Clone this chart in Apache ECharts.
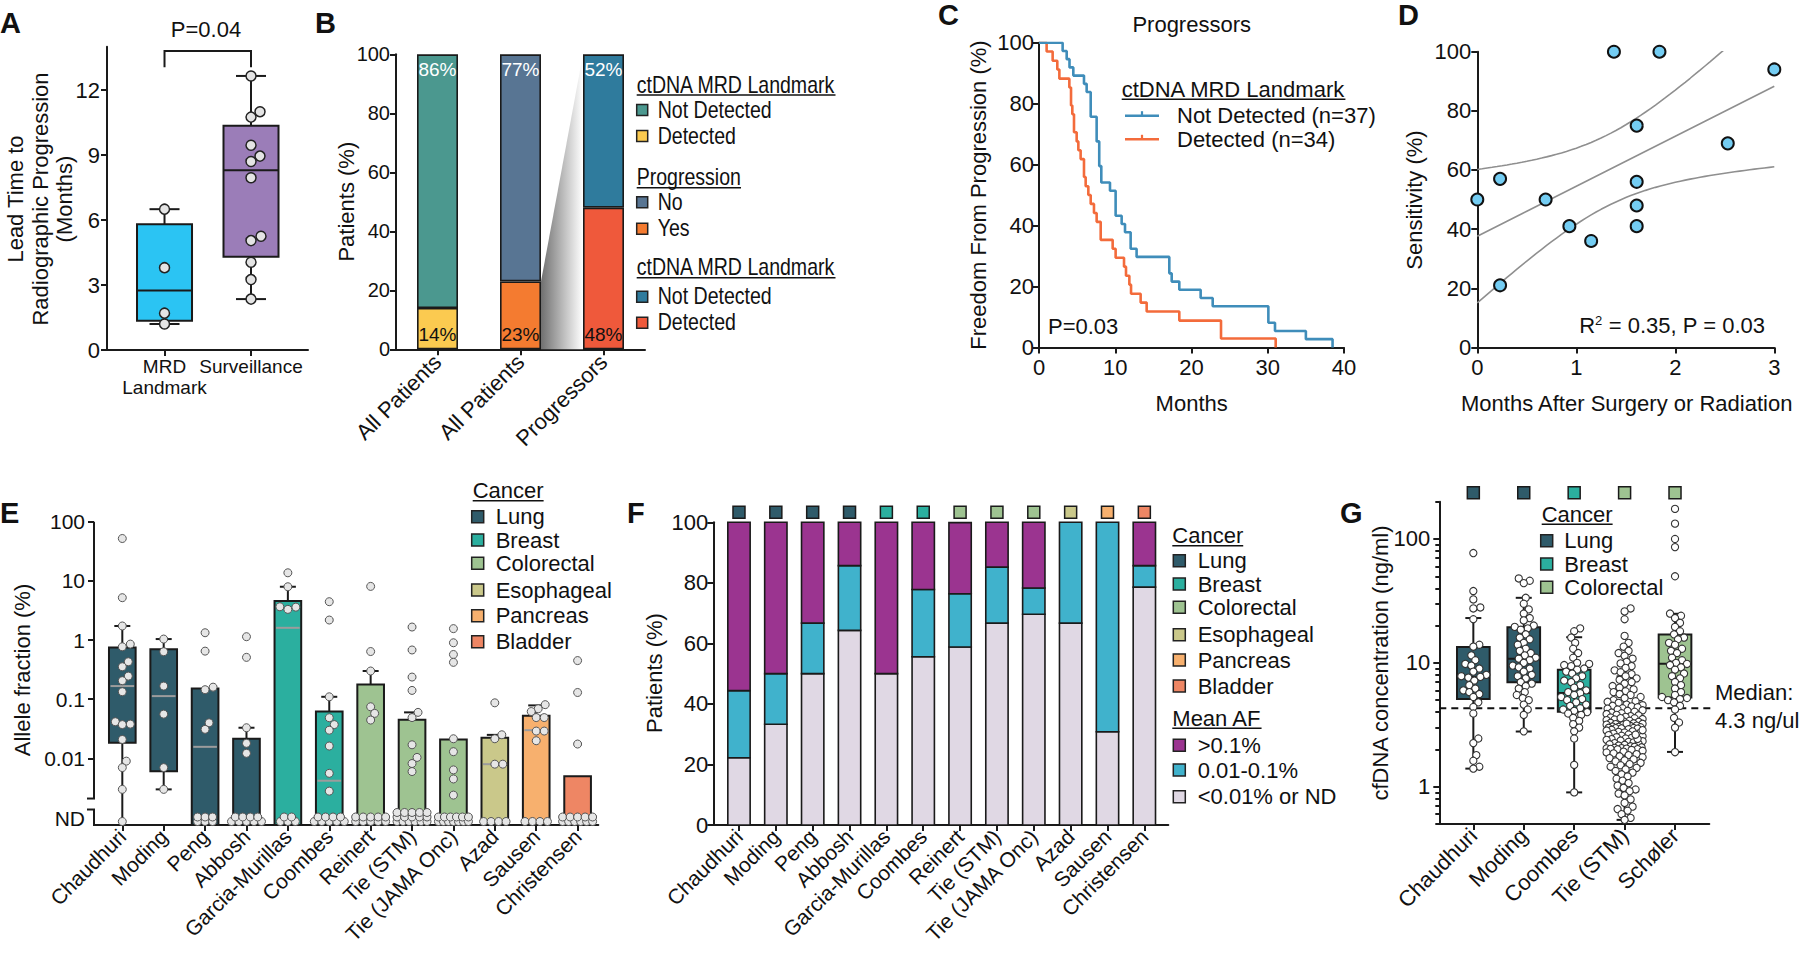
<!DOCTYPE html>
<html>
<head>
<meta charset="utf-8">
<title>ctDNA MRD figure</title>
<script src="https://cdn.jsdelivr.net/npm/echarts@6.0.0/dist/echarts.min.js"></script>
<style>
html,body{margin:0;padding:0;background:#fff;}
#chart{width:1800px;height:954px;}
</style>
</head>
<body>
<div id="chart"></div>
<script>
// ======================= DATA =======================
// ---- Panel A ----
const aCats = ['MRD\nLandmark', 'Surveillance'];
const aPoints = [
  [6.5, 3.8, 1.7, 1.2],
  [12.65, 11.0, 10.75, 9.45, 8.95, 8.7, 7.95, 5.25, 5.05, 4.05, 3.25, 2.35]
];
const aMin = [1.2, 2.35];
const aQ1 = [1.35, 4.3];
const aMed = [2.75, 8.3];
const aQ3 = [5.8, 10.35];
const aMax = [6.5, 12.65];
const aYTicks = [0, 3, 6, 9, 12];
const aPLabel = 'P=0.04';

// ---- Panel B ----
const bCats = ['All Patients', 'All Patients', 'Progressors'];
const bBottom = [14, 23, 48];
const bTop = [86, 77, 52];

// ---- Panel C (Kaplan-Meier steps: [months, %]) ----
const cNotDetected = [[0,100],[3.1,97.3],[3.63,94.6],[4.0,91.9],[4.5,89.2],[5.9,86.5],[6.25,83.8],[6.78,81.1],[6.78,78.4],[6.78,75.7],[7.56,73.0],[7.56,70.3],[7.56,67.6],[7.9,64.9],[7.9,62.2],[7.9,59.5],[8.17,56.8],[8.17,54.1],[9.31,51.4],[10.05,48.6],[10.05,45.9],[10.05,43.2],[10.84,40.5],[11.28,37.8],[12.02,35.1],[12.02,32.4],[12.8,29.7],[17.09,27.0],[17.09,24.3],[17.4,21.6],[18.4,18.9],[21.2,16.2],[22.78,13.5],[30.08,10.8],[30.08,8.1],[30.95,5.4],[35.0,2.7],[38.5,0]];
const cDetected = [[0,100],[1.0,97.1],[1.79,94.1],[2.4,91.2],[2.67,88.2],[3.98,85.3],[4.2,82.4],[4.2,79.4],[4.37,76.5],[4.59,73.5],[4.59,70.6],[4.94,67.6],[5.16,64.7],[5.46,61.8],[5.9,58.8],[5.9,55.9],[6.12,52.9],[6.47,50.0],[6.78,47.1],[7.21,44.1],[7.56,41.2],[8.09,38.2],[8.09,35.3],[9.66,32.4],[10.05,29.4],[11.15,26.5],[11.41,23.5],[11.85,20.6],[12.07,17.6],[13.33,14.7],[14.12,11.8],[18.4,8.8],[23.87,5.9],[23.87,2.9],[31.04,0]];

// ---- Panel D ----
const dMonths = [0, 0.23, 0.23, 0.69, 0.93, 1.15, 1.38, 1.84, 1.61, 1.61, 1.61, 1.61, 2.53, 3.0];
const dSens   = [50, 57, 21, 50, 41, 36, 100, 100, 75, 56, 48, 41, 69, 94];

// ---- Panel E (allele fraction %, 0 = not detected) ----
const eCats = ['Chaudhuri','Moding','Peng','Abbosh','Garcia-Murillas','Coombes','Reinert','Tie (STM)','Tie (JAMA Onc)','Azad','Sausen','Christensen'];
const eCancer = ['Lung','Lung','Lung','Lung','Breast','Breast','Colorectal','Colorectal','Colorectal','Esophageal','Pancreas','Bladder'];
const eValues = [
  [52, 5.2, 1.73, 0.855, 0.77, 0.43, 0.354, 0.246, 0.206, 0.134, 0.0417, 0.038, 0.0373, 0.0209, 0.009, 0.007, 0.003, 0],
  [1.04, 0.636, 0.167, 0.056, 0.007, 0.003],
  [1.33, 0.65, 0.16, 0.145, 0.04, 0.031, 0, 0, 0, 0, 0, 0],
  [1.14, 0.51, 0.033, 0.018, 0.0122, 0, 0, 0, 0, 0, 0, 0, 0, 0],
  [13.7, 7.96, 3.65, 3.3, 3.6, 0, 0, 0, 0, 0],
  [4.45, 2.18, 0.11, 0.0487, 0.0373, 0.030, 0.0162, 0.0056, 0.0028, 0, 0, 0, 0, 0, 0, 0, 0, 0],
  [8.07, 0.64, 0.30, 0.0746, 0.0577, 0.0445, 0, 0, 0, 0, 0, 0, 0, 0, 0, 0],
  [1.66, 0.68, 0.237, 0.141, 0.06, 0.049, 0.017, 0.0104, 0.0082, 0.006, 0, 0, 0, 0, 0, 0, 0, 0, 0, 0, 0, 0, 0, 0, 0, 0],
  [1.56, 0.90, 0.57, 0.42, 0.0215, 0.013, 0.0064, 0.0045, 0.0024, 0, 0, 0, 0, 0, 0, 0, 0, 0, 0, 0, 0, 0],
  [0.087, 0.0251, 0.0215, 0.008, 0.008, 0, 0, 0, 0],
  [0.081, 0.069, 0.062, 0.049, 0.049, 0.029, 0.029, 0.0199, 0, 0, 0, 0],
  [0.45, 0.13, 0.0175, 0, 0, 0, 0, 0, 0, 0, 0, 0, 0, 0]
];
const eQ1  = [0.0184, 0.0061, 0, 0, 0, 0, 0, 0, 0, 0, 0, 0];
const eMed = [0.167, 0.113, 0.0157, null, 1.61, 0.0042, null, null, null, 0.008, 0.030, null];
const eQ3  = [0.75, 0.70, 0.152, 0.0215, 4.56, 0.062, 0.178, 0.045, 0.0209, 0.0223, 0.0526, 0.005];
const eHi  = [1.73, 1.04, null, 0.033, 7.96, 0.110, 0.30, 0.060, null, 0.025, 0.0787, null];
const eLo  = [0, 0.003, null, null, null, null, null, null, null, null, null, null];
const eYTicks = [0.01, 0.1, 1, 10, 100];

// ---- Panel F (% of patients per mean AF class) ----
const fLow  = [22.2, 33.3, 50, 64.3, 50, 55.6, 58.8, 66.7, 69.6, 66.7, 30.8, 78.6];
const fMid  = [22.2, 16.7, 16.7, 21.4, 0, 22.2, 17.6, 18.5, 8.7, 33.3, 69.2, 7.1];
const fHigh = [55.6, 50, 33.3, 14.3, 50, 22.2, 23.5, 14.8, 21.7, 0, 0, 14.3];

// ---- Panel G (cfDNA ng/ml) ----
const gCats = ['Chaudhuri','Moding','Coombes','Tie (STM)','Schøler'];
const gCancer = ['Lung','Lung','Breast','Colorectal','Colorectal'];
const gValues = [
  [77, 38, 32.5, 28, 27.5, 22.5, 14, 13.5, 11.5, 10.5, 9.8, 9.5, 9.0, 8.5, 8.0, 7.8, 7.7, 7.6, 7.2, 6.6, 6.2, 6.0, 5.8, 5.6, 5.3, 4.8, 4.4, 3.9, 2.45, 2.25, 1.8, 1.62, 1.45, 1.4],
  [48, 46, 44, 33.5, 30, 27, 25, 23, 22, 20, 19.5, 19, 18.5, 17, 16, 15.5, 14.5, 14, 13, 12.5, 12, 11.5, 11, 10.8, 10.5, 10, 9.5, 9.2, 9, 8.5, 8, 7.8, 7.5, 7, 6.8, 6.5, 6.2, 5.8, 5.5, 5.2, 5.0, 4.6, 4.2, 3.8, 2.8],
  [19, 18, 16, 14.5, 13, 12, 11, 10, 9.8, 9.6, 9.4, 9.0, 8.8, 8.5, 8.2, 7.8, 7.5, 7.2, 7.0, 6.6, 6.3, 6.0, 5.8, 5.7, 5.5, 5.3, 5.1, 5.0, 4.8, 4.6, 4.5, 4.3, 4.2, 4.1, 4.0, 3.9, 3.8, 3.6, 3.4, 3.2, 3.0, 2.8, 2.45, 1.5, 0.9],
  [27.5, 26, 22.5, 16.5, 14.5, 13.5, 12.5, 12, 11.4, 10.8, 10.2, 9.9, 9.4, 9.1, 8.7, 8.4, 8.1, 7.8, 7.5, 7.3, 7.0, 6.8, 6.5, 6.3, 6.1, 5.9, 5.8, 5.6, 5.5, 5.3, 5.2, 5.0, 4.9, 4.85, 4.75, 4.6, 4.55, 4.5, 4.45, 4.38,
   4.3, 4.27, 4.2, 4.14, 4.1, 4.03, 3.97, 3.92, 3.86, 3.8, 3.77, 3.71, 3.66, 3.62, 3.57, 3.52, 3.49, 3.45, 3.41, 3.37, 3.34, 3.31, 3.28, 3.25, 3.22, 3.2, 3.17, 3.14, 3.11, 3.09, 3.06, 3.04, 3.02, 3.0, 2.99, 2.98, 2.97, 2.96, 3.23, 3.58,
   2.94, 2.91, 2.88, 2.84, 2.8, 2.77, 2.74, 2.71, 2.68, 2.64, 2.61, 2.58, 2.55, 2.51, 2.48, 2.45, 2.42, 2.39, 2.36, 2.33, 2.3, 2.28, 2.25, 2.22, 2.2, 2.18, 2.15, 2.12, 2.1, 2.08, 2.06, 2.05, 2.04, 2.03, 2.02, 2.01, 2.0, 2.43, 2.63, 2.86,
   1.98, 1.95, 1.92, 1.89, 1.86, 1.83, 1.8, 1.76, 1.73, 1.7, 1.66, 1.63, 1.6, 1.56, 1.52, 1.49, 1.45, 1.42, 1.38, 1.34, 1.3, 1.26, 1.21, 1.16, 1.12, 1.07, 1.02, 0.98, 0.95, 0.92, 0.88, 0.85, 0.79, 0.74, 0.69, 0.66, 0.64, 0.6, 0.56, 0.54],
  [175, 133, 100, 86, 50, 25, 24, 23, 21, 19.5, 18, 17, 16, 15.5, 14.5, 14, 13, 12.5, 12, 11, 10.5, 10, 9.8, 9.6, 9.2, 8.8, 8.2, 7.8, 7.5, 7.0, 6.6, 6.2, 5.8, 5.5, 5.3, 5.2, 5.1, 5.0, 4.8, 4.5, 4.2, 3.6, 3.3, 3.0, 1.9]
];
const gQ1  = [5.11, 6.97, 4.02, 2.0, 5.24];
const gMed = [7.69, 10.8, 5.72, 2.95, 9.85];
const gQ3  = [13.4, 19.4, 8.81, 4.33, 16.9];
const gLo  = [1.4, 2.79, 0.9, 0.54, 1.91];
const gHi  = [23, 33.5, 16.1, 7.78, 24.9];
const gMedianAll = 4.3;
const gYTicks = [1, 10, 100];

// ======================= STYLE =======================
const FONT = 'Liberation Sans, Arial, Helvetica, sans-serif';
const INK = '#111111', AXC = '#1a1a1a';
const cancerColor = {Lung:'#2F5B6A', Breast:'#2BAF9F', Colorectal:'#9EC391', Esophageal:'#CAC88A', Pancreas:'#F7B06E', Bladder:'#EE8664'};
const aColors = ['#2BC4F3', '#9B7DB8'];
const bBottomColors = ['#FBCA50', '#F47B30', '#EF593B'];
const bTopColors = ['#4B988F', '#587593', '#2F7B9D'];
const kmBlue = '#3F8DBA', kmOrange = '#F36B3B';
const fColors = {low:'#E0D8E4', mid:'#40B2CC', high:'#9B3490'};
const B_SX = 0.85; // panel B text is horizontally condensed

// ======================= HELPERS =======================
const lg = Math.log10;
const fmtPow = v => String(parseFloat(Math.pow(10, v).toPrecision(3)));
const seg = (x1, y1, x2, y2, lw, c) => ({type:'line', shape:{x1, y1, x2, y2}, style:{stroke:c || AXC, lineWidth:lw || 2}});
const dot = (cx, cy, r, fill, stroke, lw) => ({type:'circle', shape:{cx, cy, r}, style:{fill, stroke, lineWidth:lw}});

// bee-swarm offsets in pixel space (deterministic)
function swarm(ys, dMin, maxHalf) {
  const n = ys.length, off = new Array(n).fill(0);
  const order = ys.map((_, i) => i).sort((a, b) => ys[b] - ys[a]);
  const cands = [0];
  for (let s = 1; s <= maxHalf; s += 1) cands.push(s, -s);
  const placed = [];
  for (const i of order) {
    const y = ys[i];
    let chosen = null, bestX = 0, bestD = -1;
    for (const x of cands) {
      let md = Infinity;
      for (const p of placed) {
        const dy = p[1] - y;
        if (Math.abs(dy) >= dMin) continue;
        const dx = p[0] - x;
        const d = Math.sqrt(dx * dx + dy * dy);
        if (d < md) md = d;
      }
      if (md >= dMin) { chosen = x; break; }
      if (md > bestD) { bestD = md; bestX = x; }
    }
    if (chosen === null) chosen = bestX;
    off[i] = chosen;
    placed.push([chosen, y]);
  }
  return off;
}
// rows for not-detected points sitting on the axis
function ndLayout(n) {
  if (!n) return [];
  const rows = n <= 4 ? 1 : (n <= 14 ? 2 : 3);
  const out = []; let left = n;
  for (let r = 0; r < rows; r++) {
    const cnt = Math.ceil(left / (rows - r)); left -= cnt;
    const sp = cnt > 1 ? Math.min(7.5, 30 / (cnt - 1)) : 0;
    for (let k = 0; k < cnt; k++) out.push([(k - (cnt - 1) / 2) * sp, r * 4.5]);
  }
  return out;
}

// ======================= AXES =======================
const axLine = (show = true) => ({show, onZero:false, lineStyle:{color:AXC, width:2}});
const axTick = (o) => Object.assign({show:true, length:6, lineStyle:{color:AXC, width:2}}, o || {});
const axLabel = (o) => Object.assign({color:INK, fontFamily:FONT, fontSize:22, margin:7, hideOverlap:false}, o || {});
const noSplit = {show:false};

const A_X = [-0.665, 1.659];
const E_X = [-0.684, 11.5];
const F_X = [-0.697, 11.65];
const G_X = [-0.675, 4.68];
const E_MIN = lg(0.00075), E_ND = lg(0.00097), E_BREAK_HI = lg(0.0021), E_BREAK_LO = lg(0.00137);
const G_MIN = lg(0.5), G_MAX = lg(200);
const idx = arr => arr.map((_, i) => i);
const gMinor = [];
for (let d = -1; d <= 2; d++) for (let k = 2; k <= 9; k++) { const v = k * Math.pow(10, d); if (v >= 0.5 - 1e-9 && v <= 200 + 1e-9) gMinor.push(lg(v)); }

const grids = [
  {left:107,    top:46.7,  width:201,   height:303.3},  // A
  {left:396,    top:54.3,  width:249,   height:295},    // B
  {left:1039,   top:42.7,  width:305,   height:304.7},  // C
  {left:1477.3, top:51.7,  width:297,   height:295.7},  // D
  {left:94,     top:521.7, width:504.3, height:303.3},  // E
  {left:713.3,  top:522.3, width:455,   height:302.7},  // F
  {left:1439.3, top:501.7, width:270,   height:322.3}   // G
];

const aLabelAxis = (k, withLine) => ({gridIndex:0, type:'value', position:'bottom', offset:0, min:A_X[0], max:A_X[1], axisLine:axLine(withLine), splitLine:noSplit,
  axisTick:withLine ? axTick({customValues:idx(aCats)}) : {show:false},
  axisLabel:axLabel({fontSize:19, lineHeight:21, margin:6, customValues:[k], formatter:v => aCats[Math.round(v)]})});

const xAxes = [
  aLabelAxis(0, true),
  {gridIndex:1, type:'category', data:bCats, axisLine:axLine(), axisTick:axTick({alignWithLabel:true}),
   axisLabel:axLabel({rotate:45, margin:9, interval:0})},
  {gridIndex:2, type:'value', min:0, max:40, interval:10, axisLine:axLine(), axisTick:axTick(), axisLabel:axLabel({margin:9}), splitLine:noSplit},
  {gridIndex:3, type:'value', min:0, max:3, interval:1, axisLine:axLine(), axisTick:axTick(), axisLabel:axLabel({margin:9}), splitLine:noSplit},
  {gridIndex:4, type:'value', min:E_X[0], max:E_X[1], axisLine:axLine(), splitLine:noSplit,
   axisTick:axTick({customValues:idx(eCats)}),
   axisLabel:axLabel({fontSize:21, rotate:45, margin:8, customValues:idx(eCats), formatter:v => eCats[Math.round(v)]})},
  {gridIndex:5, type:'value', min:F_X[0], max:F_X[1], axisLine:axLine(), splitLine:noSplit,
   axisTick:axTick({customValues:idx(eCats)}),
   axisLabel:axLabel({fontSize:21, rotate:45, margin:8, customValues:idx(eCats), formatter:v => eCats[Math.round(v)]})},
  {gridIndex:6, type:'value', min:G_X[0], max:G_X[1], axisLine:axLine(), splitLine:noSplit,
   axisTick:axTick({customValues:idx(gCats)}),
   axisLabel:axLabel({fontSize:22, rotate:45, margin:8, customValues:idx(gCats), formatter:v => gCats[Math.round(v)]})},
  aLabelAxis(1, false)   // second label-only axis for panel A (labels touch each other)
];

const yAxes = [
  {gridIndex:0, type:'value', min:0, max:14, axisLine:axLine(), splitLine:noSplit,
   axisTick:axTick({customValues:aYTicks}), axisLabel:axLabel({margin:7, customValues:aYTicks})},
  {gridIndex:1, type:'value', min:0, max:100, interval:20, axisLine:axLine(), splitLine:noSplit,
   axisTick:axTick(), axisLabel:axLabel({fontSize:20, margin:6})},
  {gridIndex:2, type:'value', min:0, max:100, interval:20, axisLine:axLine(), splitLine:noSplit,
   axisTick:axTick(), axisLabel:axLabel({margin:5})},
  {gridIndex:3, type:'value', min:0, max:100, interval:20, axisLine:axLine(), splitLine:noSplit,
   axisTick:axTick(), axisLabel:axLabel({margin:6})},
  {gridIndex:4, type:'value', min:E_MIN, max:2, axisLine:axLine(false), splitLine:noSplit,
   axisTick:axTick({customValues:eYTicks.map(lg)}),
   axisLabel:axLabel({fontSize:21, margin:9, customValues:eYTicks.map(lg).concat([E_ND]), formatter:v => v < -2.5 ? 'ND' : fmtPow(v)})},
  {gridIndex:5, type:'value', min:0, max:100, interval:20, axisLine:axLine(), splitLine:noSplit,
   axisTick:axTick(), axisLabel:axLabel({margin:5})},
  {gridIndex:6, type:'value', position:'left', min:G_MIN, max:G_MAX, axisLine:axLine(), splitLine:noSplit,
   axisTick:axTick({customValues:gYTicks.map(lg)}),
   axisLabel:axLabel({margin:9, customValues:gYTicks.map(lg), formatter:fmtPow})},
  {gridIndex:6, type:'value', position:'left', min:G_MIN, max:G_MAX, axisLine:axLine(false), splitLine:noSplit,
   axisLabel:{show:false}, axisTick:axTick({length:4, customValues:gMinor})}
];

// ======================= RENDERERS =======================
function renderA(params, api) {
  const i = params.dataIndex;
  const cx = api.coord([i, 0])[0];
  const hw = api.size([1, 0])[0] * 0.318;
  const Y = v => api.coord([i, v])[1];
  const ch = [];
  ch.push(seg(cx, Y(aQ3[i]), cx, Y(aMax[i]), 2));
  ch.push(seg(cx, Y(aQ1[i]), cx, Y(aMin[i]), 2));
  ch.push(seg(cx - 15, Y(aMax[i]), cx + 15, Y(aMax[i]), 2));
  ch.push(seg(cx - 15, Y(aMin[i]), cx + 15, Y(aMin[i]), 2));
  ch.push({type:'rect', shape:{x:cx - hw, y:Y(aQ3[i]), width:2 * hw, height:Y(aQ1[i]) - Y(aQ3[i])}, style:{fill:aColors[i], stroke:AXC, lineWidth:2}});
  ch.push(seg(cx - hw, Y(aMed[i]), cx + hw, Y(aMed[i]), 2));
  const ys = aPoints[i].map(Y);
  const off = swarm(ys, 10, 14);
  ys.forEach((y, k) => ch.push(dot(cx + off[k], y, 5, '#E4E4E4', '#222', 1.5)));
  return {type:'group', children:ch};
}
function renderABracket(params, api) {
  const p0 = api.coord([0, 13.8]), p1 = api.coord([1, 13.8]);
  const yl = api.coord([0, 13.05])[1];
  return {type:'polyline', shape:{points:[[p0[0], yl], [p0[0], p0[1]], [p1[0], p1[1]], [p1[0], yl]]}, style:{stroke:AXC, lineWidth:2, fill:null}};
}
function renderBGrad(params, api) {
  const hw = 20.5;
  const a1 = api.coord([1, bBottom[1]]), a0 = api.coord([1, 0]);
  const b1 = api.coord([2, bBottom[2] + bTop[2]]), b0 = api.coord([2, 0]);
  return {type:'polygon', shape:{points:[[a1[0] + hw, a1[1]], [b1[0] - hw, b1[1]], [b0[0] - hw, b0[1]], [a0[0] + hw, a0[1]]]},
    style:{fill:new echarts.graphic.LinearGradient(0, 0, 1, 0, [{offset:0, color:'#707070'}, {offset:1, color:'#ffffff'}])}};
}
function renderE(params, api) {
  const i = params.dataIndex;
  const cx = api.coord([i, 0])[0];
  const hw = api.size([1, 0])[0] * 0.322;
  const yAx = api.coord([i, E_MIN])[1];
  const Y = v => v > 0 ? api.coord([i, lg(v)])[1] : yAx;
  const ch = [];
  if (eHi[i] != null) { ch.push(seg(cx, Y(eQ3[i]), cx, Y(eHi[i]), 2)); ch.push(seg(cx - 8, Y(eHi[i]), cx + 8, Y(eHi[i]), 2)); }
  if (eLo[i] != null) { ch.push(seg(cx, Y(eQ1[i]), cx, Y(eLo[i]), 2)); if (eLo[i] > 0) ch.push(seg(cx - 8, Y(eLo[i]), cx + 8, Y(eLo[i]), 2)); }
  const top = Y(eQ3[i]), bot = Y(eQ1[i]);
  ch.push({type:'rect', shape:{x:cx - hw, y:top, width:2 * hw, height:bot - top}, style:{fill:cancerColor[eCancer[i]], stroke:AXC, lineWidth:2}});
  if (eMed[i] != null) { const ym = Y(eMed[i]); ch.push(seg(cx - hw + 1.5, ym, cx + hw - 1.5, ym, 2, '#9c9c9c')); }
  const vals = eValues[i];
  const det = vals.filter(v => v > 0).map(Y);
  const off = swarm(det, 7.5, 13);
  const nd = vals.filter(v => !(v > 0)).length;
  ndLayout(nd).forEach(([dx, dy]) => ch.push(dot(cx + dx, yAx - 3.5 - dy, 4, '#E6E6E6', '#555', 1)));
  det.forEach((y, k) => ch.push(dot(cx + off[k], y, 4, '#E6E6E6', '#555', 1)));
  return {type:'group', children:ch};
}
function renderEAxis(params, api) {
  const x = api.coord([E_X[0], 0])[0];
  const yTop = api.coord([E_X[0], 2])[1];
  const yB1 = api.coord([E_X[0], E_BREAK_HI])[1];
  const yB2 = api.coord([E_X[0], E_BREAK_LO])[1];
  const yBot = api.coord([E_X[0], E_MIN])[1];
  return {type:'group', children:[seg(x, yTop, x, yB1), seg(x - 7, yB1, x + 1, yB1), seg(x, yB2, x, yBot + 1), seg(x - 7, yB2, x + 1, yB2)]};
}
function renderF(params, api) {
  const i = params.dataIndex;
  const cx = api.coord([i, 0])[0];
  const hw = api.size([1, 0])[0] * 0.303;
  const segs = [[fLow[i], fColors.low], [fMid[i], fColors.mid], [fHigh[i], fColors.high]];
  let acc = 0; const ch = [];
  segs.forEach(([v, c]) => {
    if (v > 0) {
      const y1 = api.coord([i, acc])[1], y2 = api.coord([i, acc + v])[1];
      ch.push({type:'rect', shape:{x:cx - hw, y:y2, width:2 * hw, height:y1 - y2}, style:{fill:c, stroke:AXC, lineWidth:1.6}});
    }
    acc += v;
  });
  const yt = api.coord([i, 100])[1];
  ch.push({type:'rect', shape:{x:cx - 6, y:yt - 16, width:12, height:12}, style:{fill:cancerColor[eCancer[i]], stroke:AXC, lineWidth:1.5}});
  return {type:'group', children:ch};
}
function renderGBox(params, api) {
  const i = params.dataIndex;
  const cx = api.coord([i, 0])[0];
  const hw = api.size([1, 0])[0] * 0.324;
  const Y = v => api.coord([i, lg(v)])[1];
  const ch = [];
  ch.push(seg(cx, Y(gQ3[i]), cx, Y(gHi[i]), 2));
  ch.push(seg(cx, Y(gQ1[i]), cx, Y(gLo[i]), 2));
  ch.push(seg(cx - 8, Y(gHi[i]), cx + 8, Y(gHi[i]), 2));
  ch.push(seg(cx - 8, Y(gLo[i]), cx + 8, Y(gLo[i]), 2));
  ch.push({type:'rect', shape:{x:cx - hw, y:Y(gQ3[i]), width:2 * hw, height:Y(gQ1[i]) - Y(gQ3[i])}, style:{fill:cancerColor[gCancer[i]], stroke:AXC, lineWidth:2}});
  ch.push(seg(cx - hw, Y(gMed[i]), cx + hw, Y(gMed[i]), 2));
  const yt = api.coord([i, G_MAX])[1];
  ch.push({type:'rect', shape:{x:cx - 6, y:yt - 15, width:12, height:12}, style:{fill:cancerColor[gCancer[i]], stroke:AXC, lineWidth:1.5}});
  return {type:'group', children:ch};
}
function renderGPts(params, api) {
  const i = params.dataIndex;
  const cx = api.coord([i, 0])[0];
  const ys = gValues[i].map(v => api.coord([i, lg(v)])[1]);
  const off = swarm(ys, 6.2, i === 3 ? 18 : 16);
  return {type:'group', children:ys.map((y, k) => dot(cx + off[k], y, 3.6, '#FFFFFF', '#333', 1.1))};
}
function renderGDash(params, api) {
  const y = api.coord([0, lg(gMedianAll)])[1];
  const x0 = api.coord([G_X[0], 0])[0], x1 = api.coord([G_X[1], 0])[0] + 3;
  return {type:'line', shape:{x1:x0, y1:y, x2:x1, y2:y}, style:{stroke:'#111', lineWidth:2, lineDash:[7, 5]}};
}

// ---- Panel D fit (least squares + 95% CI of the mean) ----
function linreg(xs, ys) {
  const n = xs.length;
  const xb = xs.reduce((s, v) => s + v, 0) / n, yb = ys.reduce((s, v) => s + v, 0) / n;
  let sxx = 0, sxy = 0, syy = 0;
  for (let k = 0; k < n; k++) { sxx += (xs[k] - xb) ** 2; sxy += (xs[k] - xb) * (ys[k] - yb); syy += (ys[k] - yb) ** 2; }
  const b1 = sxy / sxx, b0 = yb - b1 * xb;
  const sse = syy - b1 * sxy;
  return {n, xb, sxx, b0, b1, s:Math.sqrt(sse / (n - 2))};
}
const fit = linreg(dMonths, dSens);
const T_CRIT = 2.179; // t(0.975, df = 12)
const fitX = []; for (let k = 0; k <= 60; k++) fitX.push(k * 0.05);
const ciHalf = x => T_CRIT * fit.s * Math.sqrt(1 / fit.n + (x - fit.xb) ** 2 / fit.sxx);
const fitMid = fitX.map(x => [x, fit.b0 + fit.b1 * x]);
const fitUp = fitX.map(x => [x, fit.b0 + fit.b1 * x + ciHalf(x)]);
const fitDn = fitX.map(x => [x, fit.b0 + fit.b1 * x - ciHalf(x)]);

// ======================= SERIES =======================
const series = [
  // A
  {type:'custom', xAxisIndex:0, yAxisIndex:0, data:aCats.map((_, i) => [i, aMax[i]]), renderItem:renderA, z:3},
  {type:'custom', xAxisIndex:0, yAxisIndex:0, data:[[0, 0]], renderItem:renderABracket, z:3},
  // B
  {type:'custom', xAxisIndex:1, yAxisIndex:1, data:[[0, 0]], renderItem:renderBGrad, z:1},
  {type:'bar', xAxisIndex:1, yAxisIndex:1, stack:'b', barWidth:41,
   data:bBottom.map((v, i) => ({value:v, itemStyle:{color:bBottomColors[i]}})),
   itemStyle:{borderColor:AXC, borderWidth:1.6},
   label:{show:true, position:'insideBottom', distance:5, formatter:'{c}%', color:INK, fontFamily:FONT, fontSize:19}},
  {type:'bar', xAxisIndex:1, yAxisIndex:1, stack:'b', barWidth:41,
   data:bTop.map((v, i) => ({value:v, itemStyle:{color:bTopColors[i]}})),
   itemStyle:{borderColor:AXC, borderWidth:1.6},
   label:{show:true, position:'insideTop', distance:6, formatter:'{c}%', color:'#ffffff', fontFamily:FONT, fontSize:19}},
  // C
  {type:'line', xAxisIndex:2, yAxisIndex:2, step:'end', data:cDetected, showSymbol:false, symbol:'none', lineStyle:{color:kmOrange, width:2.6}, z:3},
  {type:'line', xAxisIndex:2, yAxisIndex:2, step:'end', data:cNotDetected, showSymbol:false, symbol:'none', lineStyle:{color:kmBlue, width:2.6}, z:4},
  // D
  {type:'line', xAxisIndex:3, yAxisIndex:3, data:fitUp, symbol:'none', lineStyle:{color:'#8f8f8f', width:1.6}},
  {type:'line', xAxisIndex:3, yAxisIndex:3, data:fitMid, symbol:'none', lineStyle:{color:'#8f8f8f', width:1.6}},
  {type:'line', xAxisIndex:3, yAxisIndex:3, data:fitDn, symbol:'none', lineStyle:{color:'#8f8f8f', width:1.6}},
  {type:'scatter', xAxisIndex:3, yAxisIndex:3, data:dMonths.map((x, k) => [x, dSens[k]]), symbolSize:12, clip:false,
   itemStyle:{color:'#74CDF3', borderColor:'#111', borderWidth:2, opacity:1}, z:5},
  // E
  {type:'custom', xAxisIndex:4, yAxisIndex:4, data:eCats.map((_, i) => [i, 0]), renderItem:renderE, z:3},
  {type:'custom', xAxisIndex:4, yAxisIndex:4, data:[[0, 0]], renderItem:renderEAxis, z:4},
  // F
  {type:'custom', xAxisIndex:5, yAxisIndex:5, data:eCats.map((_, i) => [i, 0]), renderItem:renderF, z:3},
  // G
  {type:'custom', xAxisIndex:6, yAxisIndex:6, data:gCats.map((_, i) => [i, 0]), renderItem:renderGBox, z:2},
  {type:'custom', xAxisIndex:6, yAxisIndex:6, data:[[0, 0]], renderItem:renderGDash, z:3},
  {type:'custom', xAxisIndex:6, yAxisIndex:6, data:gCats.map((_, i) => [i, 0]), renderItem:renderGPts, z:4}
];

// ======================= TEXT / LEGENDS =======================
const mctx = document.createElement('canvas').getContext('2d');
const tw = (t, size) => { mctx.font = size + 'px ' + FONT; return mctx.measureText(t).width; };
const GR = [];
function T(x, y, text, o) {
  o = o || {};
  const st = {text, fill:o.color || INK, fontSize:o.size || 22, fontFamily:FONT, fontWeight:o.weight || 'normal',
    align:o.align || 'left', textAlign:o.align || 'left', verticalAlign:'middle', textVerticalAlign:'middle'};
  if (o.lh) st.lineHeight = o.lh;
  if (o.rich) st.rich = o.rich;
  GR.push({type:'text', x, y, rotation:o.rot || 0, scaleX:o.sx || 1, style:st, silent:true, z:10});
}
function LN(x1, y1, x2, y2, c, lw) { GR.push({type:'line', shape:{x1, y1, x2, y2}, style:{stroke:c || INK, lineWidth:lw || 1.6}, silent:true, z:10}); }
function SW(x, yc, size, color) { GR.push({type:'rect', shape:{x, y:yc - size / 2, width:size, height:size}, style:{fill:color, stroke:'#222', lineWidth:1.5}, silent:true, z:10}); }
function HEAD(x, y, text, size, sx) { sx = sx || 1; T(x, y, text, {size, sx}); LN(x, y + 10, x + tw(text, size) * sx, y + 10, INK, 1.6); }

// panel letters
const letter = (x, y, t) => T(x, y, t, {size:29, weight:'bold'});
letter(0, 23, 'A'); letter(315, 23, 'B'); letter(938, 14.5, 'C'); letter(1398, 14.5, 'D');
letter(0, 512.5, 'E'); letter(627, 512.5, 'F'); letter(1340, 513, 'G');

// A
T(40, 199, 'Lead Time to\nRadiographic Progression\n(Months)', {align:'center', rot:Math.PI / 2, lh:24.5});
T(206, 29, aPLabel, {align:'center'});

// B
T(346.7, 201.7, 'Patients (%)', {align:'center', rot:Math.PI / 2});
const bl = {size:23, sx:B_SX};
HEAD(636.7, 85, 'ctDNA MRD Landmark', 23, B_SX);
SW(636.7, 110, 11, bTopColors[0]);    T(657.7, 110, 'Not Detected', bl);
SW(636.7, 136, 11, bBottomColors[0]); T(657.7, 136, 'Detected', bl);
HEAD(636.7, 177.7, 'Progression', 23, B_SX);
SW(636.7, 202.3, 11, bTopColors[1]);    T(657.7, 202.3, 'No', bl);
SW(636.7, 228.7, 11, bBottomColors[1]); T(657.7, 228.7, 'Yes', bl);
HEAD(636.7, 267.7, 'ctDNA MRD Landmark', 23, B_SX);
SW(636.7, 296.7, 11, bTopColors[2]);    T(657.7, 296.7, 'Not Detected', bl);
SW(636.7, 322.7, 11, bBottomColors[2]); T(657.7, 322.7, 'Detected', bl);

// C
T(1191.7, 24.3, 'Progressors', {align:'center'});
T(1191.7, 403, 'Months', {align:'center'});
T(978.3, 195, 'Freedom From Progression (%)', {align:'center', rot:Math.PI / 2});
HEAD(1121.7, 89.3, 'ctDNA MRD Landmark', 22);
LN(1125, 115.7, 1159, 115.7, kmBlue, 2.6); LN(1142, 111.2, 1142, 115.7, kmBlue, 2.2);
T(1177, 115.7, 'Not Detected (n=37)');
LN(1125, 139.3, 1159, 139.3, kmOrange, 2.6); LN(1142, 134.8, 1142, 139.3, kmOrange, 2.2);
T(1177, 139.3, 'Detected (n=34)');
T(1048, 326.7, 'P=0.03');

// D
T(1414.5, 200, 'Sensitivity (%)', {align:'center', rot:Math.PI / 2});
T(1626.7, 403.3, 'Months After Surgery or Radiation', {align:'center'});
T(1765, 325, '{a|R}{s|2}{a| = 0.35, P = 0.03}', {align:'right',
  rich:{a:{fontSize:22, fontFamily:FONT, fill:INK}, s:{fontSize:13, fontFamily:FONT, fill:INK, verticalAlign:'top'}}});

// E
T(22.5, 670, 'Allele fraction (%)', {align:'center', rot:Math.PI / 2});
const cancerNames = ['Lung', 'Breast', 'Colorectal', 'Esophageal', 'Pancreas', 'Bladder'];
HEAD(472.7, 490.7, 'Cancer', 22);
[516.7, 540, 563.3, 590, 615.7, 641.7].forEach((y, k) => { SW(471.7, y, 12, cancerColor[cancerNames[k]]); T(495.7, y, cancerNames[k]); });

// F
T(654, 673, 'Patients (%)', {align:'center', rot:Math.PI / 2});
HEAD(1172.3, 535.7, 'Cancer', 22);
[560.7, 584, 607.3, 634.7, 660, 686].forEach((y, k) => { SW(1173.3, y, 12, cancerColor[cancerNames[k]]); T(1197.7, y, cancerNames[k]); });
HEAD(1172.3, 718.3, 'Mean AF', 22);
SW(1173.3, 745.3, 12, fColors.high); T(1197.7, 745.3, '>0.1%');
SW(1173.3, 770, 12, fColors.mid);    T(1197.7, 770, '0.01-0.1%');
SW(1173.3, 796.7, 12, fColors.low);  T(1197.7, 796.7, '<0.01% or ND');

// G
T(1380, 663, 'cfDNA concentration (ng/ml)', {align:'center', rot:Math.PI / 2});
HEAD(1541.7, 514.3, 'Cancer', 22);
['Lung', 'Breast', 'Colorectal'].forEach((nm, k) => { const y = [540.7, 564, 587.3][k]; SW(1540.7, y, 12, cancerColor[nm]); T(1564.3, y, nm); });
T(1715, 692.7, 'Median:');
T(1715, 720, gMedianAll + ' ng/ul');

// ======================= CHART =======================
const chart = echarts.init(document.getElementById('chart'), null, {renderer:'svg', width:1800, height:954});
chart.setOption({
  animation:false,
  backgroundColor:'#ffffff',
  textStyle:{fontFamily:FONT},
  grid:grids,
  xAxis:xAxes,
  yAxis:yAxes,
  series:series,
  graphic:{elements:GR}
});
</script>
</body>
</html>
